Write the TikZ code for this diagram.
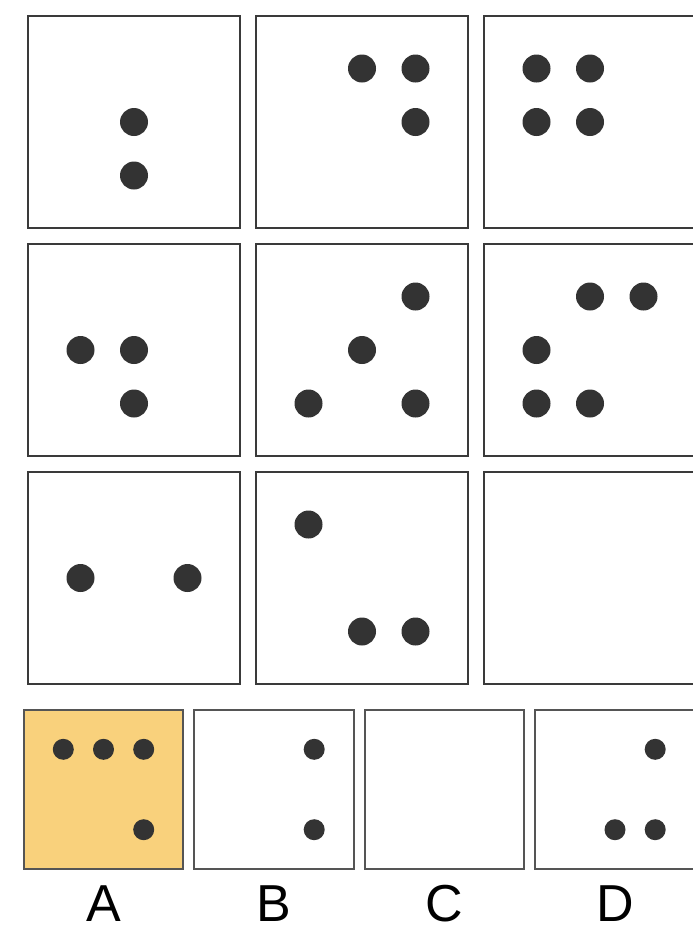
\documentclass[tikz,border=0pt]{standalone}
\usepackage{fontspec}
\setmainfont{Liberation Sans}
\definecolor{dotc}{HTML}{333333}
\definecolor{boxc}{HTML}{3A3A3A}
\definecolor{abc}{HTML}{555555}
\definecolor{hl}{HTML}{F9D17C}
\begin{document}
\begin{tikzpicture}[x=1pt,y=-1pt,
  gbox/.style={draw=boxc, line width=2pt, rectangle, minimum size=212pt, inner sep=0pt, fill=white},
  abox/.style={draw=abc, line width=1.6pt, rectangle, minimum size=159.5pt, inner sep=0pt, fill=white},
  lbl/.style={anchor=base, font=\fontsize{52}{60}\selectfont, inner sep=0pt, text depth=0pt}]
\useasboundingbox (0,0) rectangle (693,927);
% grid boxes
\node[gbox] (g11) at (134,122) {};
\node[gbox] (g12) at (362,122) {};
\node[gbox] (g13) at (590,122) {};
\node[gbox] (g21) at (134,350) {};
\node[gbox] (g22) at (362,350) {};
\node[gbox] (g23) at (590,350) {};
\node[gbox] (g31) at (134,578) {};
\node[gbox] (g32) at (362,578) {};
\node[gbox] (g33) at (590,578) {};
% grid dots
\newcommand{\gdots}[3]{\begin{scope}[shift={(#1,#2)}]
  \foreach \i/\j in {#3} \fill[dotc] (\i*53.5,\j*53.5) circle (14pt);
\end{scope}}
\gdots{134}{122}{0/0,0/1}
\gdots{362}{122}{0/-1,1/-1,1/0}
\gdots{590}{122}{-1/-1,0/-1,-1/0,0/0}
\gdots{134}{350}{-1/0,0/0,0/1}
\gdots{362}{350}{1/-1,0/0,-1/1,1/1}
\gdots{590}{350}{0/-1,1/-1,-1/0,-1/1,0/1}
\gdots{134}{578}{-1/0,1/0}
\gdots{362}{578}{-1/-1,0/1,1/1}
% answer boxes
\node[abox, fill=hl] (a) at (103.5,789.5) {};
\node[abox] (b) at (274,789.5) {};
\node[abox] (c) at (444.5,789.5) {};
\node[abox] (d) at (615,789.5) {};
\newcommand{\adots}[3]{\begin{scope}[shift={(#1,#2)}]
  \foreach \i/\j in {#3} \fill[dotc] (\i*40.2,\j*40.2) circle (10.5pt);
\end{scope}}
\adots{103.5}{789.5}{-1/-1,0/-1,1/-1,1/1}
\adots{274}{789.5}{1/-1,1/1}
\adots{615}{789.5}{1/-1,0/1,1/1}
% labels
\node[lbl] (la) at (103.5,921) {A};
\node[lbl] (lb) at (274,921) {B};
\node[lbl] (lc) at (444.5,921) {C};
\node[lbl] (ld) at (615,921) {D};
\end{tikzpicture}
\end{document}
